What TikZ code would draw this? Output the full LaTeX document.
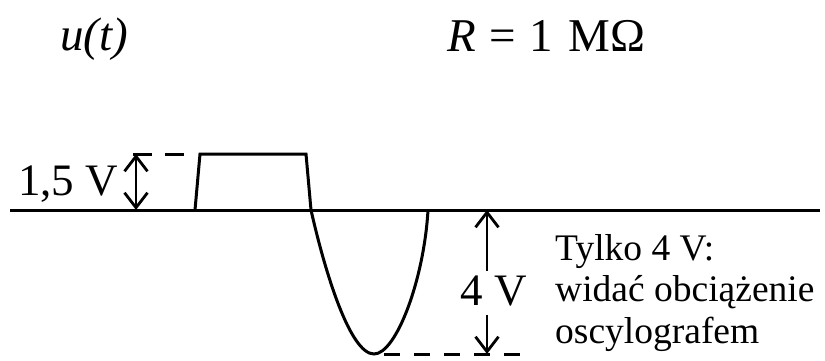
\documentclass[tikz,border=0pt]{standalone}
\usepackage{fontspec}
\setmainfont{Liberation Serif}
\usepackage{tikz}
\usetikzlibrary{arrows.meta,positioning}

\begin{document}
\begin{tikzpicture}[
    x=1pt, y=-1pt,
    wave/.style={line width=3pt, line join=miter},
    guide/.style={line width=3pt, dash pattern=on 16pt off 14pt},
    barb/.tip={Straight Barb[length=15pt, width=23pt, line width=2.8pt]},
    arrow/.style={line width=2.8pt, -barb},
    dim/.style={line width=2.8pt, barb-barb},
    big/.style={font=\fontsize{45}{50}\selectfont, inner sep=0pt},
    head/.style={font=\fontsize{47}{50}\selectfont, inner sep=0pt},
    note/.style={font=\fontsize{37.5}{41.5}\selectfont, align=left, inner sep=0pt}
]
    \useasboundingbox (0,0) rectangle (825,360);

    \node [head, anchor=base west] (ut) at (60,50) {\textit{u(t)}};
    \node [head, anchor=base west] (rval) at (447,51) {\textit{R}\hspace{0.28em}=\hspace{0.3em}1\hspace{0.33em}MΩ};
    \node [big, anchor=base west] (volt15) at (18,195) {1,5 V};
    \node [big] (volt4) at (494,291) {4 V};
    \node [note, anchor=north west] (note) at (555,234) {Tylko 4 V:\\widać obciążenie\\oscylografem};

    \coordinate (axL) at (10,210);
    \coordinate (axR) at (820,210);
    \coordinate (top15) at (136,154);
    \coordinate (bot15) at (136,210);
    \coordinate (top4) at (487,210);
    \coordinate (bot4) at (487,354);

    \draw [wave] (axL) -- (axR);
    \draw [wave] (195,210) -- (200,154) -- (306,154) -- (311,210)
        .. controls (325,272) and (350,354) .. (374,354)
        .. controls (396,354) and (424,280) .. (428,210);

    \draw [line width=3pt, dash pattern=on 19pt off 13pt] (133,154) -- (185,154);
    \draw [guide] (384,354) -- (522,354);

    \draw [dim] (bot15) -- (top15);
    \draw [arrow] ([yshift=5pt]volt4.north -| top4) -- (top4);
    \draw [arrow] ([yshift=-9pt]volt4.south -| bot4) -- (bot4);
\end{tikzpicture}
\end{document}
